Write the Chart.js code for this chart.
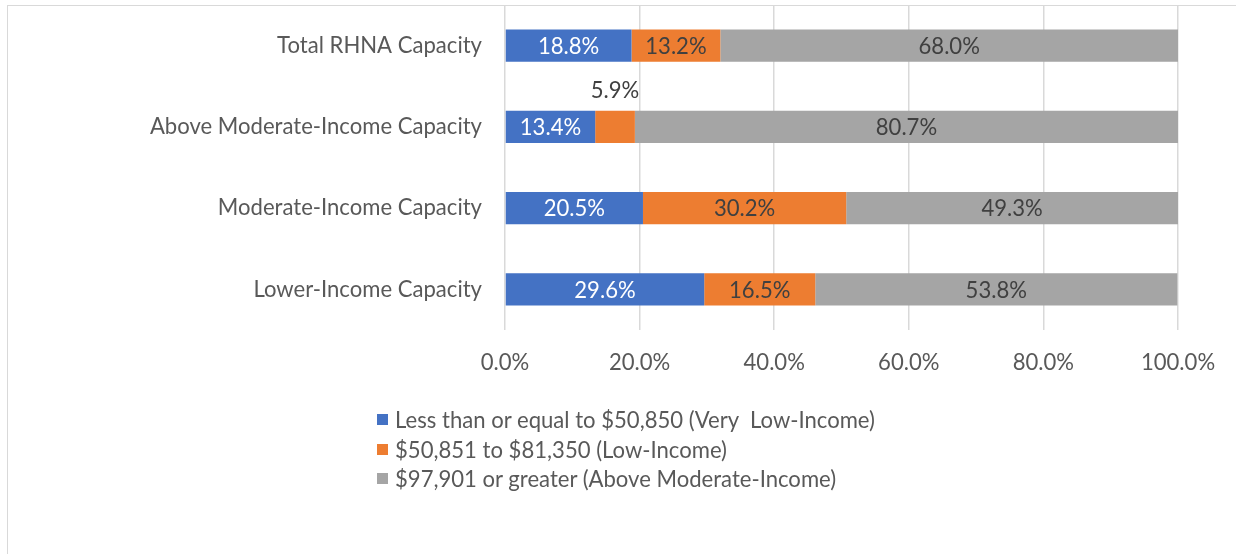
<!DOCTYPE html>
<html><head><meta charset="utf-8">
<script src="https://cdn.jsdelivr.net/npm/chart.js@4"></script>
<style>
html,body{margin:0;padding:0;background:#fff;}
#wrap{position:relative;width:1236px;height:554px;overflow:hidden;background:#fff;}
#frame{position:absolute;left:7px;top:5px;width:1240px;height:560px;border-top:1.5px solid #d9d9d9;border-left:1.5px solid #d9d9d9;box-sizing:border-box;}
canvas{position:absolute;left:0;top:0;}
#legend{position:absolute;left:377px;top:405px;}
.li{display:flex;align-items:center;height:29.5px;color:#595959;white-space:pre;}
.sw{width:11px;height:11px;margin-right:7px;flex:none;}
</style></head><body>
<div id="wrap"><div id="frame"></div><canvas id="c" width="1236" height="554"></canvas><div id="legend"></div></div>
<script>
const categories = ["Total RHNA Capacity","Above Moderate-Income Capacity","Moderate-Income Capacity","Lower-Income Capacity"];
const seriesNames = ["Less than or equal to $50,850 (Very  Low-Income)","$50,851 to $81,350 (Low-Income)","$97,901 or greater (Above Moderate-Income)"];
const veryLowIncome = [18.8,13.4,20.5,29.6];
const lowIncome = [13.2,5.9,30.2,16.5];
const aboveModerateIncome = [68.0,80.7,49.3,53.8];
const xTickValues = [0,20,40,60,80,100];
const seriesColors = ["#4472C4","#ED7D31","#A5A5A5"];
const labelColors = ["#FFFFFF","#404040","#404040"];

const FAMILY = "Lato, 'Open Sans', sans-serif";
const mctx = document.createElement('canvas').getContext('2d');
function fit(text, target){ mctx.font = "100px " + FAMILY; return 100*target/mctx.measureText(text).width; }
const FS = Math.round(((fit(categories[1],332)+fit(seriesNames[0],482))/2)*10)/10;

const legend = document.getElementById('legend');
seriesNames.forEach((n,i)=>{
  const d=document.createElement('div'); d.className='li';
  d.style.font = FS+"px "+FAMILY;
  const s=document.createElement('span'); s.className='sw'; s.style.background=seriesColors[i];
  const t=document.createElement('span'); t.textContent=n;
  d.appendChild(s); d.appendChild(t); legend.appendChild(d);
});

const segLabels = {
  id:'segLabels',
  afterDatasetsDraw(chart){
    const ctx=chart.ctx;
    ctx.save();
    ctx.font = FS+"px "+FAMILY;
    ctx.textAlign='center'; ctx.textBaseline='middle';
    chart.data.datasets.forEach((ds,di)=>{
      const meta=chart.getDatasetMeta(di);
      meta.data.forEach((bar,i)=>{
        const txt=ds.data[i].toFixed(1)+'%';
        const w=ctx.measureText(txt).width;
        const segW=Math.abs(bar.x-bar.base);
        const cx=(bar.x+bar.base)/2;
        if (w+4<=segW){ ctx.fillStyle=labelColors[di]; ctx.fillText(txt,cx,bar.y+1); }
        else { ctx.fillStyle='#404040'; ctx.fillText(txt,cx,bar.y-bar.height/2-20); }
      });
    });
    ctx.restore();
  }
};

const seriesData=[veryLowIncome,lowIncome,aboveModerateIncome];
new Chart(document.getElementById('c'),{
  type:'bar',
  data:{
    labels:categories,
    datasets:seriesNames.map((n,i)=>({label:n,data:seriesData[i],backgroundColor:seriesColors[i],borderWidth:0,barPercentage:0.395,categoryPercentage:1}))
  },
  options:{
    indexAxis:'y',
    responsive:false,
    animation:false,
    devicePixelRatio:1,
    layout:{padding:{top:5,right:58,left:0,bottom:0}},
    plugins:{legend:{display:false},tooltip:{enabled:false}},
    scales:{
      x:{
        stacked:true,min:0,max:100,
        afterBuildTicks(s){ s.ticks = xTickValues.map(v=>({value:v})); },
        ticks:{callback:v=>Number(v).toFixed(1)+'%',color:'#595959',font:{family:FAMILY,size:FS},padding:20,maxRotation:0},
        grid:{color:'#d9d9d9',lineWidth:1.5,drawTicks:false},
        border:{display:false},
        afterFit(s){ s.height = 554-330; s.paddingTop=0; s.paddingBottom=0; }
      },
      y:{
        stacked:true,
        ticks:{color:'#595959',font:{family:FAMILY,size:FS},padding:23},
        grid:{display:false,drawTicks:false},
        border:{display:false},
        afterFit(s){ s.width = 505; s.paddingTop=0; s.paddingBottom=0; }
      }
    }
  },
  plugins:[segLabels]
});
</script>
</body></html>
